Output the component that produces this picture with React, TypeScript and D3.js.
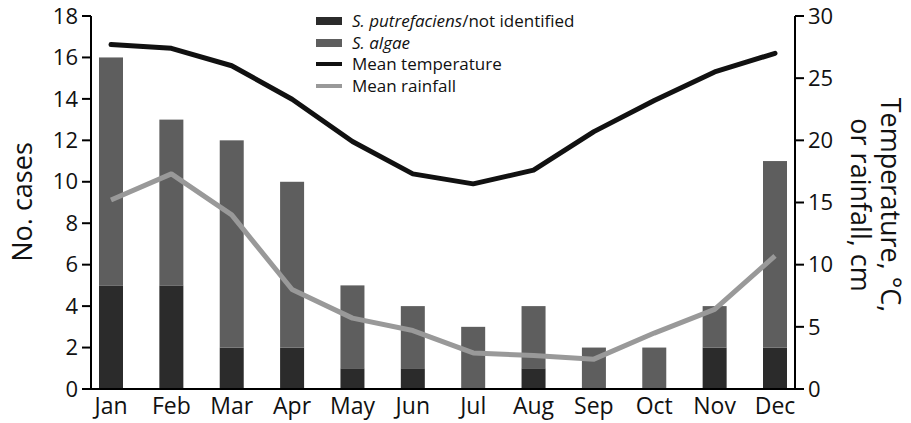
import React from "react";
import * as d3 from "d3";

const months = ["Jan", "Feb", "Mar", "Apr", "May", "Jun", "Jul", "Aug", "Sep", "Oct", "Nov", "Dec"];
const putrefaciens = [5, 5, 2, 2, 1, 1, 0, 1, 0, 0, 2, 2];
const algae = [11, 8, 10, 8, 4, 3, 3, 3, 2, 2, 2, 9];
const temperature = [27.7, 27.4, 26.0, 23.3, 19.9, 17.3, 16.5, 17.6, 20.7, 23.2, 25.5, 27.0];
const rainfall = [15.2, 17.3, 14.0, 8.0, 5.7, 4.7, 2.9, 2.7, 2.4, 4.5, 6.4, 10.7];
const leftTicks = [0, 2, 4, 6, 8, 10, 12, 14, 16, 18];
const rightTicks = [0, 5, 10, 15, 20, 25, 30];

const W = 911, H = 423;
const x0 = 91, x1 = 795, yTop = 16, yBot = 389;
const FONT = "'Open Sans', sans-serif";

export default function App() {
  const x = d3.scalePoint<string>().domain(months).range([x0 + 20, x1 - 20]);
  const yL = d3.scaleLinear().domain([0, 18]).range([yBot, yTop]);
  const yR = d3.scaleLinear().domain([0, 30]).range([yBot, yTop]);
  const bw = 24;
  const line = d3.line<number>().x((_, i) => x(months[i])!).y((d) => yR(d));

  const legend = [
    { type: "rect", color: "#2b2b2b", label: <><tspan fontStyle="italic">S. putrefaciens</tspan>/not identified</> },
    { type: "rect", color: "#5e5e5e", label: <tspan fontStyle="italic">S. algae</tspan> },
    { type: "line", color: "#111", label: "Mean temperature" },
    { type: "line", color: "#999", label: "Mean rainfall" },
  ];
  const legY = [21, 43, 64, 86];

  return (
    <svg width={W} height={H} style={{ position: "absolute", left: 0, top: 0, background: "#fff" }} fontFamily={FONT}>
      {months.map((m, i) => {
        const cx = x(m)!;
        return (
          <g key={m}>
            <rect x={cx - bw / 2} y={yL(putrefaciens[i])} width={bw} height={yL(0) - yL(putrefaciens[i])} fill="#2b2b2b" />
            <rect x={cx - bw / 2} y={yL(putrefaciens[i] + algae[i])} width={bw} height={yL(putrefaciens[i]) - yL(putrefaciens[i] + algae[i])} fill="#5e5e5e" />
          </g>
        );
      })}
      <path d={line(rainfall)!} fill="none" stroke="#999" strokeWidth={5} strokeLinejoin="round" />
      <path d={line(temperature)!} fill="none" stroke="#111" strokeWidth={5} strokeLinejoin="round" strokeLinecap="round" />
      <line x1={x0} x2={x0} y1={yTop} y2={yBot} stroke="#000" strokeWidth={2} />
      <line x1={x1} x2={x1} y1={yTop} y2={yBot} stroke="#000" strokeWidth={2} />
      <line x1={x0} x2={x1} y1={yBot} y2={yBot} stroke="#000" strokeWidth={2} />
      {leftTicks.map((t) => (
        <g key={"l" + t}>
          <line x1={x0 - 9} x2={x0} y1={yL(t)} y2={yL(t)} stroke="#000" strokeWidth={2} />
          <text x={x0 - 13} y={yL(t)} dy="0.35em" textAnchor="end" fontSize={22} fill="#111">{t}</text>
        </g>
      ))}
      {rightTicks.map((t) => (
        <g key={"r" + t}>
          <line x1={x1} x2={x1 + 9} y1={yR(t)} y2={yR(t)} stroke="#000" strokeWidth={2} />
          <text x={x1 + 13} y={yR(t)} dy="0.35em" textAnchor="start" fontSize={22} fill="#111">{t}</text>
        </g>
      ))}
      {months.map((m) => (
        <text key={"m" + m} x={x(m)!} y={414} textAnchor="middle" fontSize={23} fill="#111">{m}</text>
      ))}
      <text transform={`translate(32,202) rotate(-90)`} textAnchor="middle" fontSize={27} fill="#111">No. cases</text>
      <text transform={`translate(881,205) rotate(90)`} textAnchor="middle" fontSize={27} fill="#111">
        <tspan x={0} dy={0}>Temperature, °C,</tspan>
        <tspan x={0} dy={30}>or rainfall, cm</tspan>
      </text>
      {legend.map((l, i) => (
        <g key={"lg" + i}>
          {l.type === "rect" ? (
            <rect x={316} y={legY[i] - 4} width={26} height={8} fill={l.color} />
          ) : (
            <line x1={316} x2={342} y1={legY[i]} y2={legY[i]} stroke={l.color} strokeWidth={4} />
          )}
          <text x={352} y={legY[i]} dy="0.35em" fontSize={17} fill="#111">{l.label}</text>
        </g>
      ))}
    </svg>
  );
}
